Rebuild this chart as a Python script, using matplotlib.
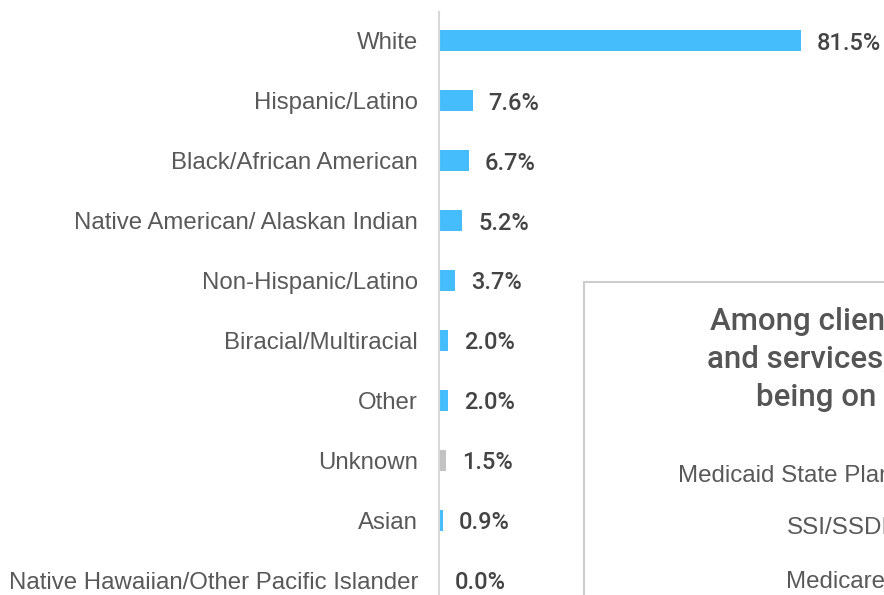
import matplotlib
matplotlib.use("Agg")
import matplotlib.pyplot as plt
from matplotlib.patches import Rectangle

categories = ["White", "Hispanic/Latino", "Black/African American",
              "Native American/ Alaskan Indian", "Non-Hispanic/Latino",
              "Biracial/Multiracial", "Other", "Unknown", "Asian",
              "Native Hawaiian/Other Pacific Islander"]
values = [81.5, 7.6, 6.7, 5.2, 3.7, 2.0, 2.0, 1.5, 0.9, 0.0]
value_labels = ["81.5%", "7.6%", "6.7%", "5.2%", "3.7%", "2.0%", "2.0%",
                "1.5%", "0.9%", "0.0%"]
bar_colors = ["#45BDFD"] * 7 + ["#C3C3C3"] + ["#45BDFD"] * 2

box_title = ["Among clients receiving supports",
             "and services, most reported",
             "being on Medicaid"]
box_rows = ["Medicaid State Plan", "SSI/SSDI", "Medicare"]

W, H = 884, 595
fig = plt.figure(figsize=(W / 100, H / 100), dpi=100)
fig.patch.set_facecolor("white")

# axes: left at x=439, top at y=12, bottom at 595, right at 884
ax = fig.add_axes([439 / W, 0, (W - 439) / W, (H - 12) / H])
ypos = list(range(len(categories)))
ax.barh(ypos, values, height=0.35, color=bar_colors, zorder=2)
ax.set_ylim(9.25, -0.48)
ax.set_xlim(0, (W - 439) / 4.44)
ax.set_yticks(ypos)
ax.set_yticklabels(categories, fontsize=17.3, color="#595959",
                   family=["Liberation Sans", "DejaVu Sans"])
ax.tick_params(axis="y", length=0, pad=15)
ax.set_xticks([])
for s in ["top", "right", "bottom"]:
    ax.spines[s].set_visible(False)
ax.spines["left"].set_color("#D9D9D9")
ax.spines["left"].set_linewidth(1.5)
ax.patch.set_alpha(0)

for y, v, lab in zip(ypos, values, value_labels):
    ax.annotate(lab, (v, y), xytext=(16, 0), textcoords="offset pixels",
                ha="left", va="center_baseline", fontsize=17, color="#444444",
                family=["Roboto", "DejaVu Sans"], fontweight="medium")

# overlay box
fig.add_artist(Rectangle((584 / W, -0.1), 1.0, (H - 282) / H + 0.1,
                         transform=fig.transFigure, facecolor="white",
                         edgecolor="#CCCCCC", linewidth=1.5, zorder=5))
title_x = [710, 707, 756]
title_y = [319, 357, 394]
for t, x, y in zip(box_title, title_x, title_y):
    fig.text(x / W, 1 - y / H, t, ha="left", va="center_baseline",
             fontsize=22.5, color="#555555", family=["Roboto", "DejaVu Sans"],
             fontweight="medium", zorder=6)
row_x = [678, 787, 786]
row_y = [474, 526, 579]
for t, x, y in zip(box_rows, row_x, row_y):
    fig.text(x / W, 1 - y / H, t, ha="left", va="center_baseline",
             fontsize=17.4, color="#595959",
             family=["Liberation Sans", "DejaVu Sans"], zorder=6)

fig.savefig("out.png", dpi=100)
